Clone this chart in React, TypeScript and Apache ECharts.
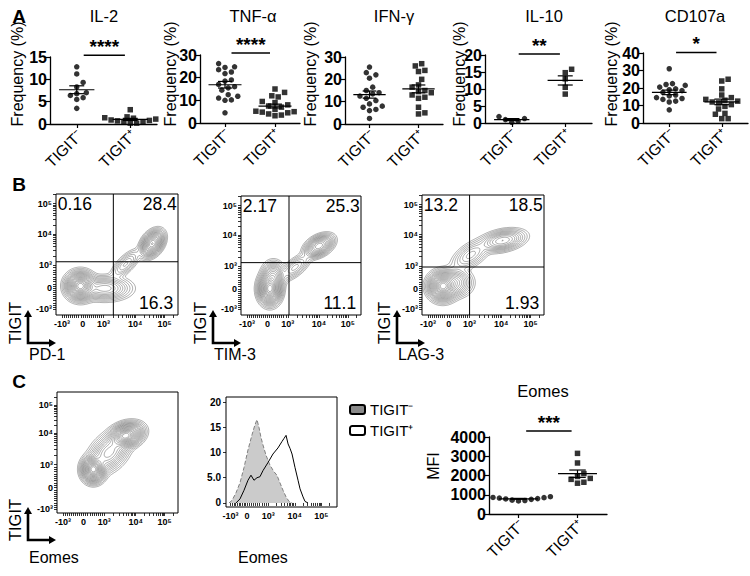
import React, { useEffect, useRef } from 'react';
import * as echarts from 'echarts';

const FONT = '"Liberation Sans", Arial, Helvetica, sans-serif';

// ---------- Panel A data ----------
const groupLabels = ['TIGIT⁻', 'TIGIT⁺'];
const cytokineTitles = ['IL-2', 'TNF-α', 'IFN-γ', 'IL-10', 'CD107a'];
const il2Neg = [12.8, 11.2, 9.3, 8.3, 7.0, 6.8, 6.4, 5.9, 5.5, 3.5];
const il2Pos = [3.2, 1.6, 1.4, 1.3, 1.1, 0.9, 0.8, 0.7, 0.5, 0.4, 0.2, 0.2];
const tnfNeg = [26.2, 24.8, 24.5, 23.5, 22.5, 21.8, 19.0, 18.5, 17.0, 16.0, 15.5, 14.5, 12.5, 11.8, 11.0, 10.2, 10.0, 4.5];
const tnfPos = [15.0, 13.5, 12.0, 11.5, 9.5, 9.0, 8.0, 7.5, 7.0, 6.0, 5.5, 5.2, 5.0, 4.8, 4.5, 4.0, 3.5, 3.2];
const ifnNeg = [25.5, 23.0, 22.0, 20.5, 16.5, 15.0, 14.0, 13.5, 12.5, 11.5, 10.5, 9.0, 8.0, 7.5, 6.5, 6.0, 2.5];
const ifnPos = [27.0, 26.0, 24.0, 23.5, 20.0, 17.5, 16.5, 15.0, 14.5, 14.0, 13.0, 12.0, 11.5, 7.5, 5.0, 4.5];
const il10Neg = [1.9, 1.3, 1.0, 0.6, 0.2];
const il10Pos = [15.8, 14.8, 13.0, 10.5, 8.5];
const cd107aNeg = [31.0, 22.5, 22.0, 21.5, 20.5, 19.5, 19.0, 18.5, 17.5, 16.0, 15.5, 14.5, 14.0, 13.5, 12.5, 12.0, 7.5];
const cd107aPos = [25.0, 24.0, 19.5, 16.0, 14.5, 13.5, 13.0, 12.5, 12.0, 11.5, 10.5, 9.5, 8.0, 5.5, 5.0, 2.5, 2.5];
const cytokineMax = [15, 30, 30, 20, 40];
const cytokineStep = [5, 10, 10, 5, 10];
const cytokineStars = ['****', '****', '', '**', '*'];
const cytokineSigY = [15.4, 30.9, 0, 20.3, 40.3];

// ---------- Panel C MFI data ----------
const eomesNeg = [900, 860, 830, 800, 780, 760, 720, 700, 680, 850];
const eomesPos = [3150, 2650, 2100, 1950, 1850, 1800, 1650, 1600];
const eomesMax = 4000;
const eomesStep = 1000;
const eomesStars = '***';
const eomesSigY = 4310;

// ---------- Flow plots (display units 0-100 on a biexponential scale) ----------
const flowTickLabels = ['-10³', '0', '10³', '10⁴', '10⁵'];
const flowXTicks = [5, 22, 39, 65, 89];
const flowYTicks = [5, 22, 41, 67, 92];
const eomesYTicks = [3, 21, 40, 66, 89];
const histXTicks = [4, 19, 38, 62, 86];
const histYTicks = [0, 5, 10, 15, 20];
// blobs: [cx, cy, sx, sy, angleDeg, weight]
const pd1Blobs = [[20, 24, 5, 4.8, 0, 1.0], [40, 22, 9, 4.2, 0, 0.4], [57, 42, 7, 2.8, 45, 0.08], [79, 59, 5, 3.3, 55, 0.5]];
const tim3Blobs = [[24, 22, 4, 5.5, 0, 1.0], [27, 33, 4, 5, 0, 0.3], [45, 40, 7, 3, 40, 0.1], [65, 58, 5.5, 3.3, 30, 0.42]];
const lag3Blobs = [[17, 24, 5, 5, 0, 1.0], [27, 27, 6, 5, 0, 0.3], [40, 50, 8, 4, 35, 0.14], [66, 62, 8, 3.6, 12, 0.33]];
const eomesBlobs = [[30, 36, 4, 4.5, 0, 0.6], [43, 50, 8.5, 5.5, 45, 0.5], [57, 64, 6, 4, 20, 0.8]];
const contourFractions = [0.005, 0.01, 0.018, 0.03, 0.045, 0.065, 0.09, 0.12, 0.16, 0.21, 0.27, 0.34, 0.42, 0.51, 0.6, 0.7, 0.8, 0.9];
const pd1Quadrants = ['0.16', '28.4', '16.3'];
const tim3Quadrants = ['2.17', '25.3', '11.1'];
const lag3Quadrants = ['13.2', '18.5', '1.93'];
const pd1Gate = [47, 44];
const tim3Gate = [40, 44];
const lag3Gate = [39, 40];
const flowXNames = ['PD-1', 'TIM-3', 'LAG-3', 'Eomes'];
const flowYName = 'TIGIT';

// histogram [position, count]
const histNeg = [[2.7, 0], [5.4, 0.5], [9.0, 2], [12.6, 4], [16.2, 7], [19.8, 10.5], [23.4, 13.5], [26.1, 15.5], [27.9, 16.5], [29.7, 15], [31.5, 13], [33.3, 11.5], [36.0, 9.5], [39.6, 7.5], [43.2, 6.2], [45.9, 5.5], [48.6, 4], [51.4, 2.5], [54.1, 1.2], [56.8, 0.3], [59.5, 0]];
const histPos = [[9.0, 0], [12.6, 0.8], [16.2, 2.5], [19.8, 4.5], [22.5, 5.5], [25.2, 4.5], [27.9, 5.0], [30.6, 5.2], [33.3, 6.4], [37.8, 8.0], [42.3, 9.7], [46.8, 10.9], [50.5, 12.2], [52.3, 12.8], [54.1, 13.4], [55.9, 11.7], [57.7, 10.8], [59.5, 9.7], [62.2, 7.0], [64.9, 4.5], [66.7, 2.8], [69.4, 1.2], [71.2, 0.3], [73.9, 0]];

// ---------- layout ----------
const dotRects = [[50, 57, 107, 67], [200, 55, 100, 68], [345, 57, 98, 67], [485, 55, 107, 68], [643, 53, 105, 70], [489, 437, 118, 77]];
const flowRects = [[56, 194, 122, 121], [241, 196, 120, 119], [422, 195, 122, 120], [57, 392, 121, 121]];
const histRect = [226, 397, 111, 110];

const SegShape = (echarts.graphic as any).extendShape({
  shape: { pts: [] as number[] },
  buildPath(ctx: any, shape: any) {
    const p = shape.pts;
    for (let i = 0; i + 3 < p.length; i += 4) {
      ctx.moveTo(p[i], p[i + 1]);
      ctx.lineTo(p[i + 2], p[i + 3]);
    }
  },
});
(echarts.graphic as any).registerShape('contourSegs', SegShape);

function density(blobs: number[][], x: number, y: number) {
  let s = 0;
  for (const [cx, cy, sx, sy, ang, w] of blobs) {
    const a = (ang * Math.PI) / 180;
    const dx = x - cx, dy = y - cy;
    const u = dx * Math.cos(a) + dy * Math.sin(a);
    const v = -dx * Math.sin(a) + dy * Math.cos(a);
    s += (w / (sx * sy)) * Math.exp(-0.5 * ((u * u) / (sx * sx) + (v * v) / (sy * sy)));
  }
  return s;
}

function contourLevels(blobs: number[][]) {
  const N = 125;
  const step = 100 / N;
  const g: number[][] = [];
  let max = 0;
  for (let j = 0; j <= N; j++) {
    const row: number[] = [];
    for (let i = 0; i <= N; i++) {
      const v = density(blobs, i * step, j * step);
      row.push(v);
      if (v > max) max = v;
    }
    g.push(row);
  }
  const out: number[][] = [];
  for (const fr of contourFractions) {
    const L = max * fr;
    const segs: number[] = [];
    for (let j = 0; j < N; j++) {
      for (let i = 0; i < N; i++) {
        const v00 = g[j][i], v10 = g[j][i + 1], v01 = g[j + 1][i], v11 = g[j + 1][i + 1];
        const pts: number[] = [];
        const x0 = i * step, x1 = (i + 1) * step, y0 = j * step, y1 = (j + 1) * step;
        const edge = (va: number, vb: number, xa: number, ya: number, xb: number, yb: number) => {
          if ((va >= L) !== (vb >= L)) {
            const t = (L - va) / (vb - va);
            pts.push(xa + (xb - xa) * t, ya + (yb - ya) * t);
          }
        };
        edge(v00, v10, x0, y0, x1, y0);
        edge(v10, v11, x1, y0, x1, y1);
        edge(v11, v01, x1, y1, x0, y1);
        edge(v01, v00, x0, y1, x0, y0);
        if (pts.length >= 4) for (const q of pts) segs.push(q);
      }
    }
    out.push(segs);
  }
  return out;
}

function swarm(values: number[], center: number, yMax: number, hPx: number, wPx: number) {
  const pxY = hPx / yMax;
  const pxX = wPx / 2;
  const d = 5.8;
  const order = values.map((_, i) => i).sort((a, b) => values[a] - values[b]);
  const placed: { x: number; y: number }[] = [];
  const out: number[][] = new Array(values.length);
  for (const i of order) {
    const y = values[i] * pxY;
    let chosen = 0;
    for (let k = 0; k < 60; k++) {
      const off = k === 0 ? 0 : (k % 2 ? 1 : -1) * Math.ceil(k / 2) * d * 0.55;
      if (placed.every((p) => (p.x - off) ** 2 + (p.y - y) ** 2 >= d * d)) {
        chosen = off;
        break;
      }
    }
    placed.push({ x: chosen, y });
    out[i] = [center + chosen / pxX, values[i]];
  }
  return out;
}

function meanSem(v: number[]) {
  const m = v.reduce((a, b) => a + b, 0) / v.length;
  const sd = Math.sqrt(v.reduce((a, b) => a + (b - m) ** 2, 0) / (v.length - 1));
  return [m, sd / Math.sqrt(v.length)];
}

function flowTicks(majors: number[]) {
  const [pn, p0, p3, p4, p5] = majors;
  const t = [...majors];
  for (let m = 1; m <= 9; m++) {
    t.push(pn + ((p0 - pn) * m) / 10);
    t.push(p0 + ((p3 - p0) * m) / 10);
  }
  for (let m = 2; m <= 9; m++) {
    t.push(p3 + (p4 - p3) * Math.log10(m));
    t.push(p4 + (p5 - p4) * Math.log10(m));
  }
  t.push(p5 + (p5 - p4) * Math.log10(2));
  return t.filter((v) => v >= 0 && v <= 100);
}

function labelFor(majors: number[], labels: string[]) {
  return (v: number) => {
    for (let i = 0; i < majors.length; i++) if (Math.abs(majors[i] - v) < 0.01) return labels[i];
    return '';
  };
}

function buildOption() {
  const grid: any[] = [];
  const xAxis: any[] = [];
  const yAxis: any[] = [];
  const series: any[] = [];
  const graphic: any[] = [];
  const black = '#000';

  const dots = [
    { neg: il2Neg, pos: il2Pos, max: cytokineMax[0], step: cytokineStep[0], stars: cytokineStars[0], sigY: cytokineSigY[0] },
    { neg: tnfNeg, pos: tnfPos, max: cytokineMax[1], step: cytokineStep[1], stars: cytokineStars[1], sigY: cytokineSigY[1] },
    { neg: ifnNeg, pos: ifnPos, max: cytokineMax[2], step: cytokineStep[2], stars: cytokineStars[2], sigY: cytokineSigY[2] },
    { neg: il10Neg, pos: il10Pos, max: cytokineMax[3], step: cytokineStep[3], stars: cytokineStars[3], sigY: cytokineSigY[3] },
    { neg: cd107aNeg, pos: cd107aPos, max: cytokineMax[4], step: cytokineStep[4], stars: cytokineStars[4], sigY: cytokineSigY[4] },
    { neg: eomesNeg, pos: eomesPos, max: eomesMax, step: eomesStep, stars: eomesStars, sigY: eomesSigY },
  ];

  dots.forEach((d, i) => {
    const [l, t, w, h] = dotRects[i];
    const gi = grid.length;
    grid.push({ left: l, top: t, width: w, height: h, outerBoundsMode: 'none' });
    xAxis.push({
      gridIndex: gi, type: 'value', min: 0, max: 2,
      axisLine: { show: true, onZero: false, lineStyle: { color: black, width: 1.3 } },
      axisTick: { show: true, customValues: [0.5, 1.5], length: 4, lineStyle: { color: black, width: 1.2 } },
      axisLabel: { show: false },
      splitLine: { show: false },
    });
    yAxis.push({
      gridIndex: gi, type: 'value', min: 0, max: d.max, interval: d.step,
      axisLine: { show: true, onZero: false, lineStyle: { color: black, width: 1.3 } },
      axisTick: { show: true, length: 5, lineStyle: { color: black, width: 1.2 } },
      axisLabel: { fontSize: 16, fontWeight: 'bold', color: black, fontFamily: FONT, margin: 3, formatter: (v: number) => String(v) },
      splitLine: { show: false },
    });
    // rotated group labels under each category
    series.push({
      type: 'custom', xAxisIndex: gi, yAxisIndex: gi, silent: true, clip: false,
      data: [[0.5, 0, 0], [1.5, 0, 1]],
      renderItem: (_p: any, api: any) => {
        const p = api.coord([api.value(0), 0]);
        return {
          type: 'text', x: p[0] + 3, y: p[1] + 9, rotation: Math.PI / 4,
          style: { text: groupLabels[api.value(2)], fill: black, font: `15.5px ${FONT}`, align: 'right', verticalAlign: 'middle' },
        };
      },
    });
    series.push({
      type: 'scatter', xAxisIndex: gi, yAxisIndex: gi, symbol: 'circle', symbolSize: 5.5,
      itemStyle: { color: black }, data: swarm(d.neg, 0.5, d.max, h, w), silent: true,
    });
    series.push({
      type: 'scatter', xAxisIndex: gi, yAxisIndex: gi, symbol: 'rect', symbolSize: 5.5,
      itemStyle: { color: black }, data: swarm(d.pos, 1.5, d.max, h, w), silent: true,
    });
    const ms = [[0.5, ...meanSem(d.neg)], [1.5, ...meanSem(d.pos)]];
    series.push({
      type: 'custom', xAxisIndex: gi, yAxisIndex: gi, silent: true, data: ms,
      renderItem: (_p: any, api: any) => {
        const cx = api.value(0), m = api.value(1), s = api.value(2);
        const pm = api.coord([cx, m]);
        const pt = api.coord([cx, m + s]);
        const pb = api.coord([cx, m - s]);
        const hw = api.size([0.33, 0])[0];
        const sw = api.size([0.14, 0])[0];
        const st = { stroke: black, lineWidth: 1.2 };
        return {
          type: 'group', children: [
            { type: 'line', shape: { x1: pm[0] - hw, y1: pm[1], x2: pm[0] + hw, y2: pm[1] }, style: st },
            { type: 'line', shape: { x1: pt[0] - sw, y1: pt[1], x2: pt[0] + sw, y2: pt[1] }, style: st },
            { type: 'line', shape: { x1: pb[0] - sw, y1: pb[1], x2: pb[0] + sw, y2: pb[1] }, style: st },
            { type: 'line', shape: { x1: pt[0], y1: pt[1], x2: pb[0], y2: pb[1] }, style: st },
          ],
        };
      },
    });
    if (d.stars) {
      const stars = d.stars;
      series.push({
        type: 'custom', xAxisIndex: gi, yAxisIndex: gi, silent: true, clip: false, data: [[0.63, 1.4, d.sigY]],
        renderItem: (_p: any, api: any) => {
          const p1 = api.coord([api.value(0), api.value(2)]);
          const p2 = api.coord([api.value(1), api.value(2)]);
          return {
            type: 'group', children: [
              { type: 'line', shape: { x1: p1[0], y1: p1[1], x2: p2[0], y2: p2[1] }, style: { stroke: black, lineWidth: 1.5 } },
              { type: 'text', x: (p1[0] + p2[0]) / 2, y: p1[1] + 1, style: { text: stars, fill: black, font: `bold 19px ${FONT}`, align: 'center', verticalAlign: 'bottom' } },
            ],
          };
        },
      });
    }
  });

  // flow contour plots
  const flows = [
    { blobs: pd1Blobs, quads: pd1Quadrants, gate: pd1Gate, yTicks: flowYTicks },
    { blobs: tim3Blobs, quads: tim3Quadrants, gate: tim3Gate, yTicks: flowYTicks },
    { blobs: lag3Blobs, quads: lag3Quadrants, gate: lag3Gate, yTicks: flowYTicks },
    { blobs: eomesBlobs, quads: null as any, gate: null as any, yTicks: eomesYTicks },
  ];
  const quadLayout: any[] = [[1.5, 92, 'left'], [99, 92, 'right'], [96, 10, 'right']];
  flows.forEach((f, i) => {
    const [l, t, w, h] = flowRects[i];
    const gi = grid.length;
    grid.push({ left: l, top: t, width: w, height: h, show: true, borderColor: black, borderWidth: 1, outerBoundsMode: 'none' });
    xAxis.push({
      gridIndex: gi, type: 'value', min: 0, max: 100,
      axisLine: { show: false },
      axisTick: { show: true, customValues: flowTicks(flowXTicks), length: 3, lineStyle: { color: black, width: 0.8 } },
      axisLabel: { customValues: flowXTicks, formatter: labelFor(flowXTicks, flowTickLabels), fontSize: 9, fontWeight: 'bold', color: black, fontFamily: FONT, margin: 4 },
      splitLine: { show: false },
    });
    yAxis.push({
      gridIndex: gi, type: 'value', min: 0, max: 100,
      axisLine: { show: false },
      axisTick: { show: true, customValues: flowTicks(f.yTicks), length: 3, lineStyle: { color: black, width: 0.8 } },
      axisLabel: { customValues: f.yTicks, formatter: labelFor(f.yTicks, flowTickLabels), fontSize: 9, fontWeight: 'bold', color: black, fontFamily: FONT, margin: 4 },
      splitLine: { show: false },
    });
    const levels = contourLevels(f.blobs);
    series.push({
      type: 'custom', xAxisIndex: gi, yAxisIndex: gi, silent: true, clip: true,
      data: levels.map((_, k) => [k, 0]),
      renderItem: (_p: any, api: any) => {
        const segs = levels[api.value(0)];
        const pts: number[] = new Array(segs.length);
        for (let s = 0; s < segs.length; s += 2) {
          const c = api.coord([segs[s], segs[s + 1]]);
          pts[s] = c[0];
          pts[s + 1] = c[1];
        }
        return { type: 'contourSegs', shape: { pts }, style: { stroke: '#4a4a4a', lineWidth: 0.45, fill: 'none' } };
      },
    });
    if (f.gate) {
      series.push({
        type: 'custom', xAxisIndex: gi, yAxisIndex: gi, silent: true, data: [f.gate],
        renderItem: (_p: any, api: any) => {
          const gx = api.value(0), gy = api.value(1);
          const a = api.coord([gx, 0]), b = api.coord([gx, 100]), c = api.coord([0, gy]), d = api.coord([100, gy]);
          const st = { stroke: black, lineWidth: 1 };
          return {
            type: 'group', children: [
              { type: 'line', shape: { x1: a[0], y1: a[1], x2: b[0], y2: b[1] }, style: st },
              { type: 'line', shape: { x1: c[0], y1: c[1], x2: d[0], y2: d[1] }, style: st },
            ],
          };
        },
      });
      const quads = f.quads;
      series.push({
        type: 'custom', xAxisIndex: gi, yAxisIndex: gi, silent: true,
        data: quadLayout.map((q: any, k: number) => [q[0], q[1], k]),
        renderItem: (_p: any, api: any) => {
          const k = api.value(2);
          const p = api.coord([api.value(0), api.value(1)]);
          return { type: 'text', x: p[0], y: p[1], style: { text: quads[k], fill: black, font: `17.5px ${FONT}`, align: quadLayout[k][2], verticalAlign: 'middle' } };
        },
      });
    }
  });

  // histogram
  {
    const [l, t, w, h] = histRect;
    const gi = grid.length;
    grid.push({ left: l, top: t, width: w, height: h, show: true, borderColor: black, borderWidth: 1, outerBoundsMode: 'none' });
    xAxis.push({
      gridIndex: gi, type: 'value', min: 0, max: 100,
      axisLine: { show: false },
      axisTick: { show: true, customValues: flowTicks(histXTicks), length: 3, lineStyle: { color: black, width: 0.8 } },
      axisLabel: { customValues: histXTicks, formatter: labelFor(histXTicks, flowTickLabels), fontSize: 9, fontWeight: 'bold', color: black, fontFamily: FONT, margin: 4 },
      splitLine: { show: false },
    });
    yAxis.push({
      gridIndex: gi, type: 'value', min: -0.8, max: 21,
      axisLine: { show: false },
      axisTick: { show: true, customValues: histYTicks, length: 3, lineStyle: { color: black, width: 0.8 } },
      axisLabel: { customValues: histYTicks, formatter: (v: number) => (v === 5 ? '5.0' : String(v)), fontSize: 10, fontWeight: 'bold', color: black, fontFamily: FONT, margin: 5 },
      splitLine: { show: false },
    });
    series.push({
      type: 'line', name: groupLabels[0], xAxisIndex: gi, yAxisIndex: gi, data: histNeg, symbol: 'none', silent: true,
      lineStyle: { color: '#808080', width: 1, type: 'dashed' }, areaStyle: { color: '#cbcbcb', opacity: 1 }, itemStyle: { color: '#8a8a8a' },
    });
    series.push({
      type: 'line', name: groupLabels[1], xAxisIndex: gi, yAxisIndex: gi, data: histPos, symbol: 'none', silent: true,
      lineStyle: { color: black, width: 1 }, itemStyle: { color: '#fff' },
    });
  }

  const txt = (text: string, x: number, y: number, font: string, align = 'center', rotation = 0) => ({
    type: 'text', x, y, rotation, silent: true,
    style: { text, font, fill: black, align, verticalAlign: 'middle' },
  });

  // panel letters
  graphic.push(txt('A', 19, 16.5, `bold 19px ${FONT}`));
  graphic.push(txt('B', 19, 184, `bold 19px ${FONT}`));
  graphic.push(txt('C', 19, 381, `bold 19px ${FONT}`));
  // titles
  const titleX = [104, 253, 394, 544, 695];
  cytokineTitles.forEach((tt, i) => graphic.push(txt(tt, titleX[i], 16, `16.5px ${FONT}`)));
  graphic.push(txt('Eomes', 543, 391, `16.5px ${FONT}`));
  // y axis names
  const freqX = [17, 170, 310, 459, 611];
  freqX.forEach((x) => graphic.push(txt('Frequency (%)', x, 74, `16px ${FONT}`, 'center', Math.PI / 2)));
  graphic.push(txt('MFI', 433, 466, `16px ${FONT}`, 'center', Math.PI / 2));
  // flow axis arrows and names
  const arrowCorners = [[28, 343, 354], [213, 343, 354], [397, 343, 354], [28, 540, 557]];
  arrowCorners.forEach(([ax, ay, ny], i) => {
    graphic.push({ type: 'polyline', silent: true, shape: { points: [[ax, ay - 27], [ax, ay], [ax + 22, ay]] }, style: { stroke: black, lineWidth: 2.6, fill: null } });
    graphic.push({ type: 'polygon', silent: true, shape: { points: [[ax - 4, ay - 26], [ax + 4, ay - 26], [ax, ay - 33]] }, style: { fill: black } });
    graphic.push({ type: 'polygon', silent: true, shape: { points: [[ax + 21, ay - 4], [ax + 21, ay + 4], [ax + 28, ay]] }, style: { fill: black } });
    graphic.push(txt(flowYName, ax - 13, ay - 20, `16.5px ${FONT}`, 'center', Math.PI / 2));
    graphic.push(txt(flowXNames[i], ax + 1, ny, `16px ${FONT}`, 'left'));
  });
  graphic.push(txt('Eomes', 238, 557, `16px ${FONT}`, 'left'));

  return {
    animation: false,
    backgroundColor: '#fff',
    textStyle: { fontFamily: FONT },
    grid, xAxis, yAxis, series, graphic,
    legend: {
      orient: 'vertical', left: 344, top: 397, itemWidth: 15, itemHeight: 9, itemGap: 6,
      textStyle: { fontSize: 15, fontFamily: FONT, color: black },
      selectedMode: false,
      data: [
        { name: groupLabels[0], icon: 'roundRect', itemStyle: { color: '#8a8a8a', borderColor: black, borderWidth: 2 } },
        { name: groupLabels[1], icon: 'roundRect', itemStyle: { color: '#fff', borderColor: black, borderWidth: 2 } },
      ],
    },
  };
}

export default function App() {
  const ref = useRef<HTMLDivElement>(null);
  useEffect(() => {
    if (!ref.current) return;
    const chart = echarts.init(ref.current, null, { renderer: 'svg' });
    chart.setOption(buildOption() as any);
    return () => chart.dispose();
  }, []);
  return <div ref={ref} style={{ position: 'absolute', left: 0, top: 0, width: 750, height: 576, background: '#fff' }} />;
}
